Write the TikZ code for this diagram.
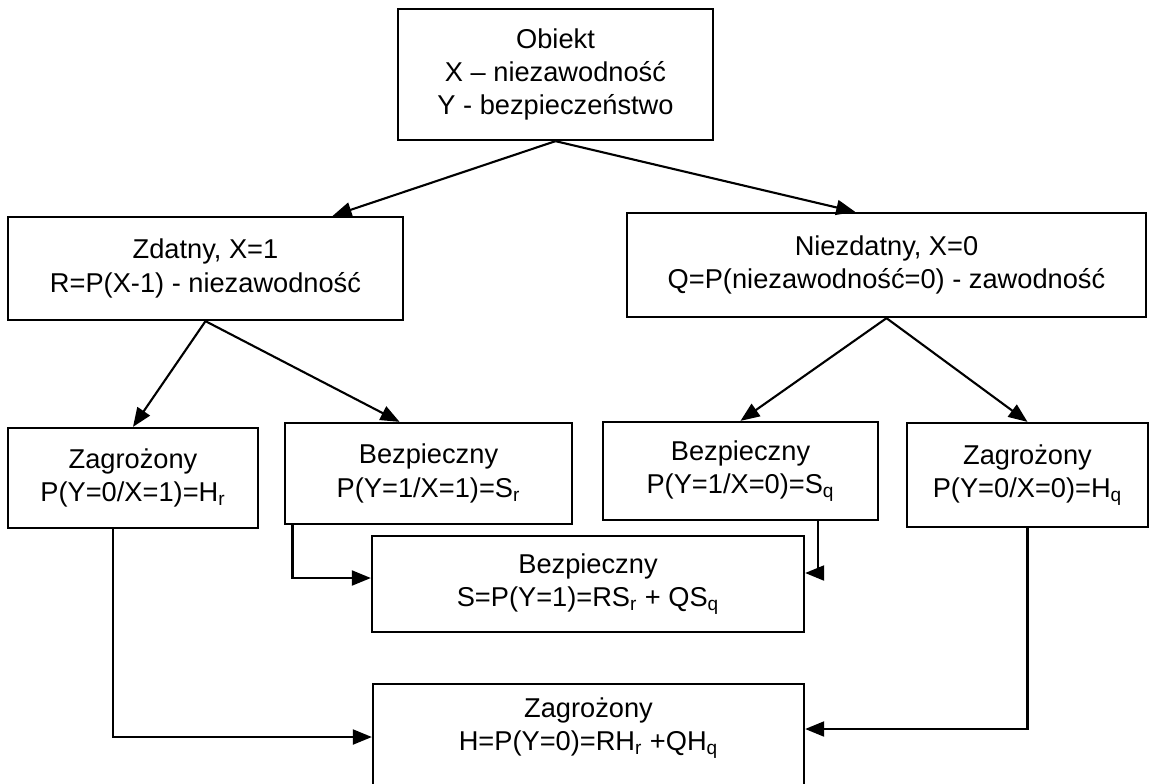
\documentclass[tikz,border=0pt]{standalone}
\usepackage{fontspec}
\setmainfont{Liberation Sans}
\usepackage{tikz}
\usetikzlibrary{arrows.meta,calc}

\tikzset{
  blok/.style={draw, line width=1.3pt, align=center, inner sep=2pt,
    font=\fontsize{15.5}{19}\selectfont},
  napis/.style={align=center, inner sep=0pt, font=\fontsize{15.5}{19}\selectfont},
  strz/.style={line width=1.2pt, -{Triangle[length=0.38cm,width=0.30cm]}}
}

\begin{document}
\begin{tikzpicture}
  \useasboundingbox (0,0) rectangle (23.14,-15.66);

  % gorny poziom
  \node[blok, minimum width=6.30cm, minimum height=2.62cm] (obiekt) at (11.11,-1.49)
    {Obiekt\\X – niezawodność\\Y - bezpieczeństwo};

  % stan obiektu
  \node[blok, minimum width=7.90cm, minimum height=2.06cm] (zdatny) at (4.11,-5.37)
    {Zdatny, X=1\\R=P(X-1) - niezawodność};
  \node[blok, minimum width=10.38cm, minimum height=2.08cm] (niezdatny) at (17.73,-5.30)
    {Niezdatny, X=0\\Q=P(niezawodność=0) - zawodność};

  % prawdopodobienstwa warunkowe
  \node[blok, minimum width=5.00cm, minimum height=2.00cm] (zagrL) at (2.66,-9.56)
    {Zagrożony\\P(Y=0/X=1)=H\textsubscript{r}};
  \node[blok, minimum width=5.74cm, minimum height=2.02cm] (bezpL) at (8.57,-9.47)
    {Bezpieczny\\P(Y=1/X=1)=S\textsubscript{r}};
  \node[blok, minimum width=5.50cm, minimum height=1.96cm] (bezpR) at (14.81,-9.42)
    {Bezpieczny\\P(Y=1/X=0)=S\textsubscript{q}};
  \node[blok, minimum width=4.82cm, minimum height=2.08cm] (zagrR) at (20.55,-9.50)
    {Zagrożony\\P(Y=0/X=0)=H\textsubscript{q}};

  % wyniki
  \node[blok, minimum width=8.64cm, minimum height=1.92cm] (bezpS) at (11.76,-11.68)
    {Bezpieczny\\S=P(Y=1)=RS\textsubscript{r} + QS\textsubscript{q}};
  \node[blok, minimum width=8.62cm, minimum height=2.30cm, anchor=north] (zagrH) at (11.77,-13.66) {};
  \node[napis] (zagrHtxt) at ($(zagrH.north)+(0,-0.90)$)
    {Zagrożony\\H=P(Y=0)=RH\textsubscript{r} +QH\textsubscript{q}};

  % strzalki
  \draw[strz] (obiekt.south) -- ($(zdatny.north west)!0.82!(zdatny.north east)$);
  \draw[strz] (obiekt.south) -- ($(niezdatny.north west)!0.44!(niezdatny.north east)$);
  \draw[strz] (zdatny.south) -- (zagrL.north);
  \draw[strz] (zdatny.south) -- ($(bezpL.north west)!0.40!(bezpL.north east)$);
  \draw[strz] (niezdatny.south) -- (bezpR.north);
  \draw[strz] (niezdatny.south) -- (zagrR.north);

  \draw[strz] ($(bezpL.south west)!0.03!(bezpL.south east)$) |- ([yshift=0.12cm]bezpS.west);
  \draw[strz] ($(bezpR.south west)!0.78!(bezpR.south east)$) |- ([yshift=0.22cm]bezpS.east);
  \draw[strz] ($(zagrL.south west)!0.42!(zagrL.south east)$) |- ([yshift=-1.08cm]zagrH.north west);
  \draw[strz] (zagrR.south) |- ([yshift=-0.92cm]zagrH.north east);
\end{tikzpicture}
\end{document}
